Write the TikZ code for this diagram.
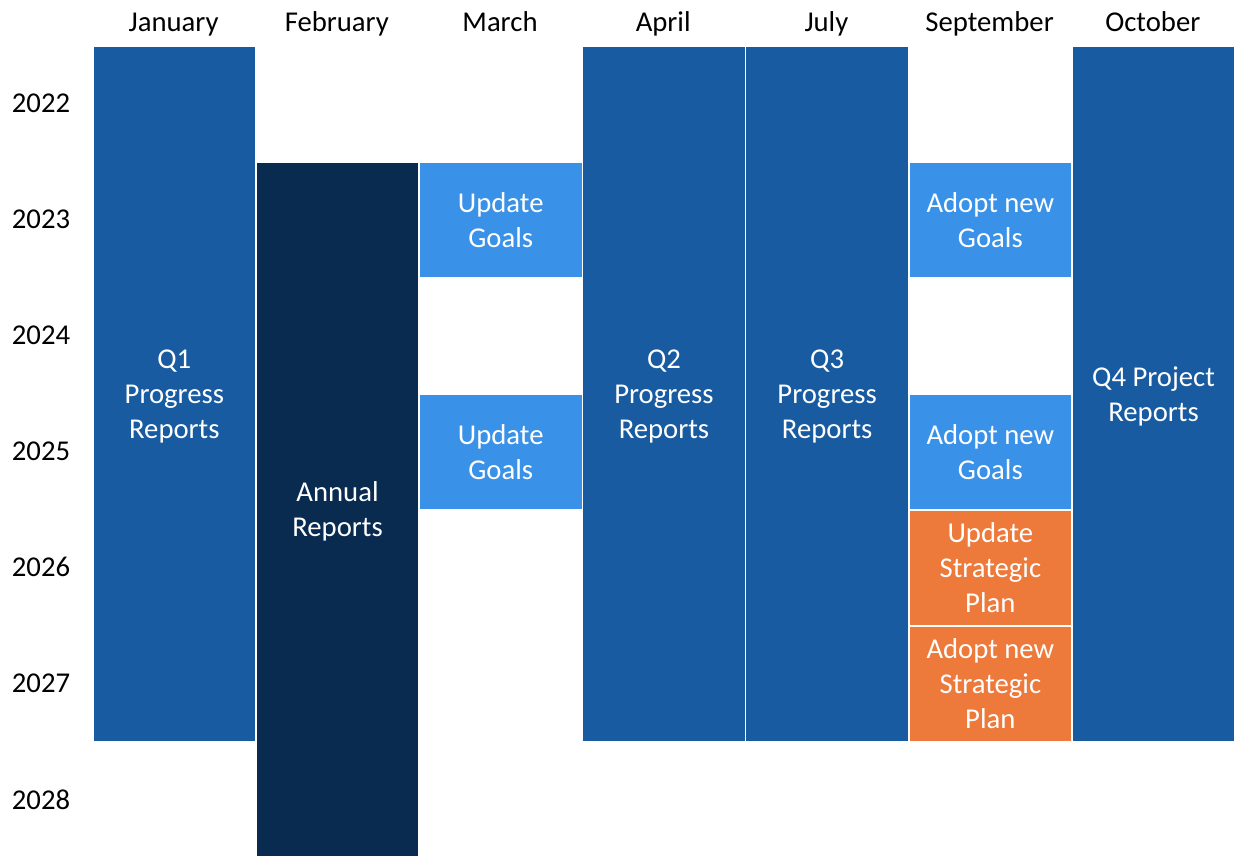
\documentclass[tikz,border=0pt]{standalone}
\usepackage{fontspec}
\setmainfont{Carlito}
\definecolor{midblue}{RGB}{24,91,160}
\definecolor{navy}{RGB}{8,43,79}
\definecolor{lightblue}{RGB}{58,145,232}
\definecolor{orangebox}{RGB}{237,121,59}
\begin{document}
\begin{tikzpicture}[x=1pt,y=-1pt,
  box/.style={draw=white, line width=1.5pt, anchor=north west, inner sep=0pt,
    minimum width=163.2pt, text=white, align=center, text depth=0pt,
    font=\fontsize{28.7}{35}\selectfont},
  lbl/.style={inner sep=0pt, anchor=base, text=black, font=\fontsize{28.7}{35}\selectfont}]
\useasboundingbox (0,0) rectangle (1234,855);
% month labels
\node[lbl] (mjan) at (173.6,31) {January};
\node[lbl] (mfeb) at (336.8,31) {February};
\node[lbl] (mmar) at (500,31) {March};
\node[lbl] (mapr) at (663.2,31) {April};
\node[lbl] (mjul) at (826.4,31) {July};
\node[lbl] (msep) at (989.6,31) {September};
\node[lbl] (moct) at (1152.8,31) {October};
% year labels
\node[lbl] (y22) at (41,112.5) {2022};
\node[lbl] (y23) at (41,228.5) {2023};
\node[lbl] (y24) at (41,344.5) {2024};
\node[lbl] (y25) at (41,460.5) {2025};
\node[lbl] (y26) at (41,576.5) {2026};
\node[lbl] (y27) at (41,692.5) {2027};
\node[lbl] (y28) at (41,809) {2028};
% boxes
\node[box, fill=midblue, minimum height=696pt] (jan) at (92,45) {Q1\\Progress\\Reports};
\node[box, fill=navy, minimum height=695pt] (feb) at (255.2,161) {Annual\\Reports};
\node[box, fill=lightblue, minimum height=116pt] (mar1) at (418.4,161) {Update\\Goals};
\node[box, fill=lightblue, minimum height=116pt] (mar2) at (418.4,393) {Update\\Goals};
\node[box, fill=midblue, minimum height=696pt] (apr) at (581.6,45) {Q2\\Progress\\Reports};
\node[box, fill=midblue, minimum height=696pt] (jul) at (744.8,45) {Q3\\Progress\\Reports};
\node[box, fill=lightblue, minimum height=116pt] (sep1) at (908,161) {Adopt new\\Goals};
\node[box, fill=lightblue, minimum height=116pt] (sep2) at (908,393) {Adopt new\\Goals};
\node[box, fill=orangebox, minimum height=116pt] (sep3) at (908,509) {Update\\Strategic\\Plan};
\node[box, fill=orangebox, minimum height=116pt] (sep4) at (908,625) {Adopt new\\Strategic\\Plan};
\node[box, fill=midblue, minimum height=696pt] (oct) at (1071.2,45) {Q4 Project\\Reports};
\end{tikzpicture}
\end{document}
